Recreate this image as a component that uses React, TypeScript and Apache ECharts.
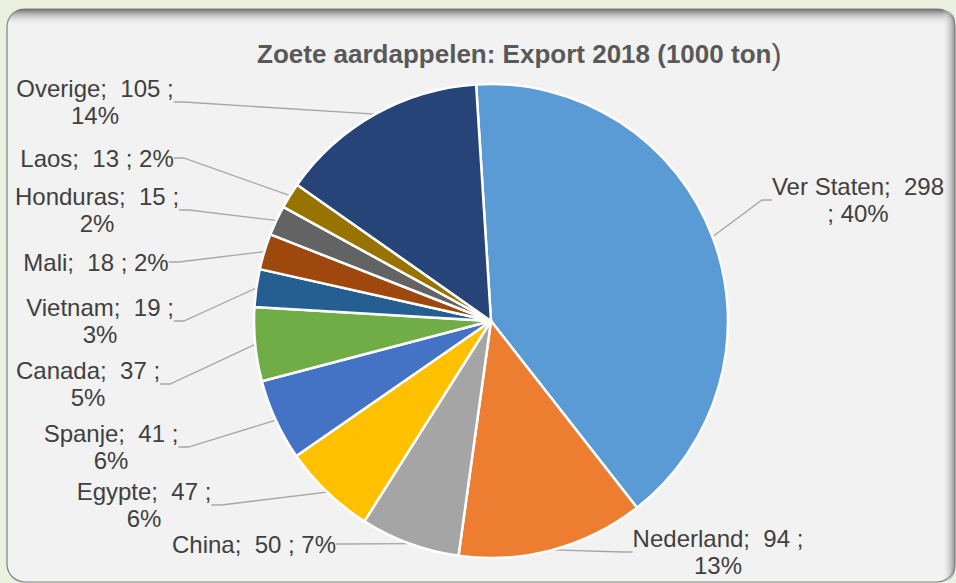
import React, { useEffect, useRef } from "react";
import * as echarts from "echarts";

const categories = [
  "Ver Staten",
  "Nederland",
  "China",
  "Egypte",
  "Spanje",
  "Canada",
  "Vietnam",
  "Mali",
  "Honduras",
  "Laos",
  "Overige",
];
const values = [298, 94, 50, 47, 41, 37, 19, 18, 15, 13, 105];
// line-break style of each label: "value" = break before the percentage,
// "name" = break after the value (before "; x%"), "none" = one line
const breakStyle = [
  "name",
  "value",
  "none",
  "value",
  "value",
  "value",
  "value",
  "none",
  "value",
  "none",
  "value",
];
const colors = [
  "#5b9bd5",
  "#ed7d31",
  "#a5a5a5",
  "#ffc000",
  "#4472c4",
  "#70ad47",
  "#255e91",
  "#9e480e",
  "#636363",
  "#997300",
  "#264478",
];
const titleText = "Zoete aardappelen: Export 2018 (1000 ton";

// label block centres (layout)
const labelPos: [number, number][] = [
  [858, 200],
  [718, 552],
  [254, 544],
  [144, 505],
  [111, 447],
  [88, 384],
  [100, 321],
  [96, 262],
  [97, 210],
  [97, 158],
  [95, 102],
];

const FONT = "'Liberation Sans', Arial, sans-serif";

export default function App() {
  const ref = useRef<HTMLDivElement>(null);
  useEffect(() => {
    if (!ref.current) return;
    const chart = echarts.init(ref.current, undefined, { renderer: "svg" });
    const data = categories.map((n, i) => ({
      name: n,
      value: values[i],
      itemStyle: { color: colors[i] },
    }));
    chart.setOption({
      animation: false,
      backgroundColor: "#ebf1de",
      title: {
        text: "{a|" + titleText + "}{b|)}",
        left: 252,
        top: 34,
        textStyle: {
          rich: {
            a: {
              fontFamily: FONT,
              fontWeight: "bold",
              fontSize: 26,
              color: "#595959",
            },
            b: {
              fontFamily: FONT,
              fontWeight: "normal",
              fontSize: 30,
              color: "#595959",
            },
          },
        },
      },
      graphic: [
        {
          type: "rect",
          z: -10,
          shape: { x: 7, y: 9, width: 948, height: 573, r: 18 },
          style: { fill: "#f2f2f2", stroke: "#7f7f7f", lineWidth: 1.2 },
        },
        {
          type: "rect",
          z: -9,
          shape: { x: 7, y: 9, width: 948, height: 16, r: [18, 18, 0, 0] },
          style: {
            fill: new echarts.graphic.LinearGradient(0, 0, 0, 1, [
              { offset: 0, color: "rgba(110,110,110,1)" },
              { offset: 1, color: "rgba(242,242,242,0)" },
            ]),
          },
        },
        {
          type: "rect",
          z: -9,
          shape: { x: 942, y: 9, width: 13, height: 573, r: [0, 18, 18, 0] },
          style: {
            fill: new echarts.graphic.LinearGradient(0, 0, 1, 0, [
              { offset: 0, color: "rgba(242,242,242,0)" },
              { offset: 1, color: "rgba(120,120,120,0.8)" },
            ]),
          },
        },
      ],
      series: [
        {
          type: "pie",
          center: [491, 321],
          radius: 237,
          startAngle: 93.6,
          clockwise: true,
          avoidLabelOverlap: false,
          data,
          itemStyle: { borderColor: "#ffffff", borderWidth: 2.5 },
          label: {
            show: true,
            position: "outside",
            fontFamily: FONT,
            fontSize: 24,
            lineHeight: 27,
            color: "#404040",
            align: "center",
            formatter: (p: any) => {
              const i = p.dataIndex;
              const pct = Math.round((p.value / values.reduce((a, b) => a + b, 0)) * 100);
              const s = breakStyle[i];
              if (s === "name") return `${p.name};  ${p.value}\n; ${pct}%`;
              if (s === "value") return `${p.name};  ${p.value} ;\n${pct}%`;
              return `${p.name};  ${p.value} ; ${pct}%`;
            },
          },
          labelLine: {
            show: true,
            length: 10,
            length2: 10,
            lineStyle: { color: "#a6a6a6", width: 1.3 },
          },
          labelLayout: (params: any) => {
            const p = labelPos[params.dataIndex];
            return { x: p[0], y: p[1], align: "center", verticalAlign: "middle" };
          },
          emphasis: { disabled: true },
        },
      ],
    });
    return () => chart.dispose();
  }, []);
  return (
    <div
      ref={ref}
      style={{ position: "fixed", left: 0, top: 0, width: 956, height: 583 }}
    />
  );
}
